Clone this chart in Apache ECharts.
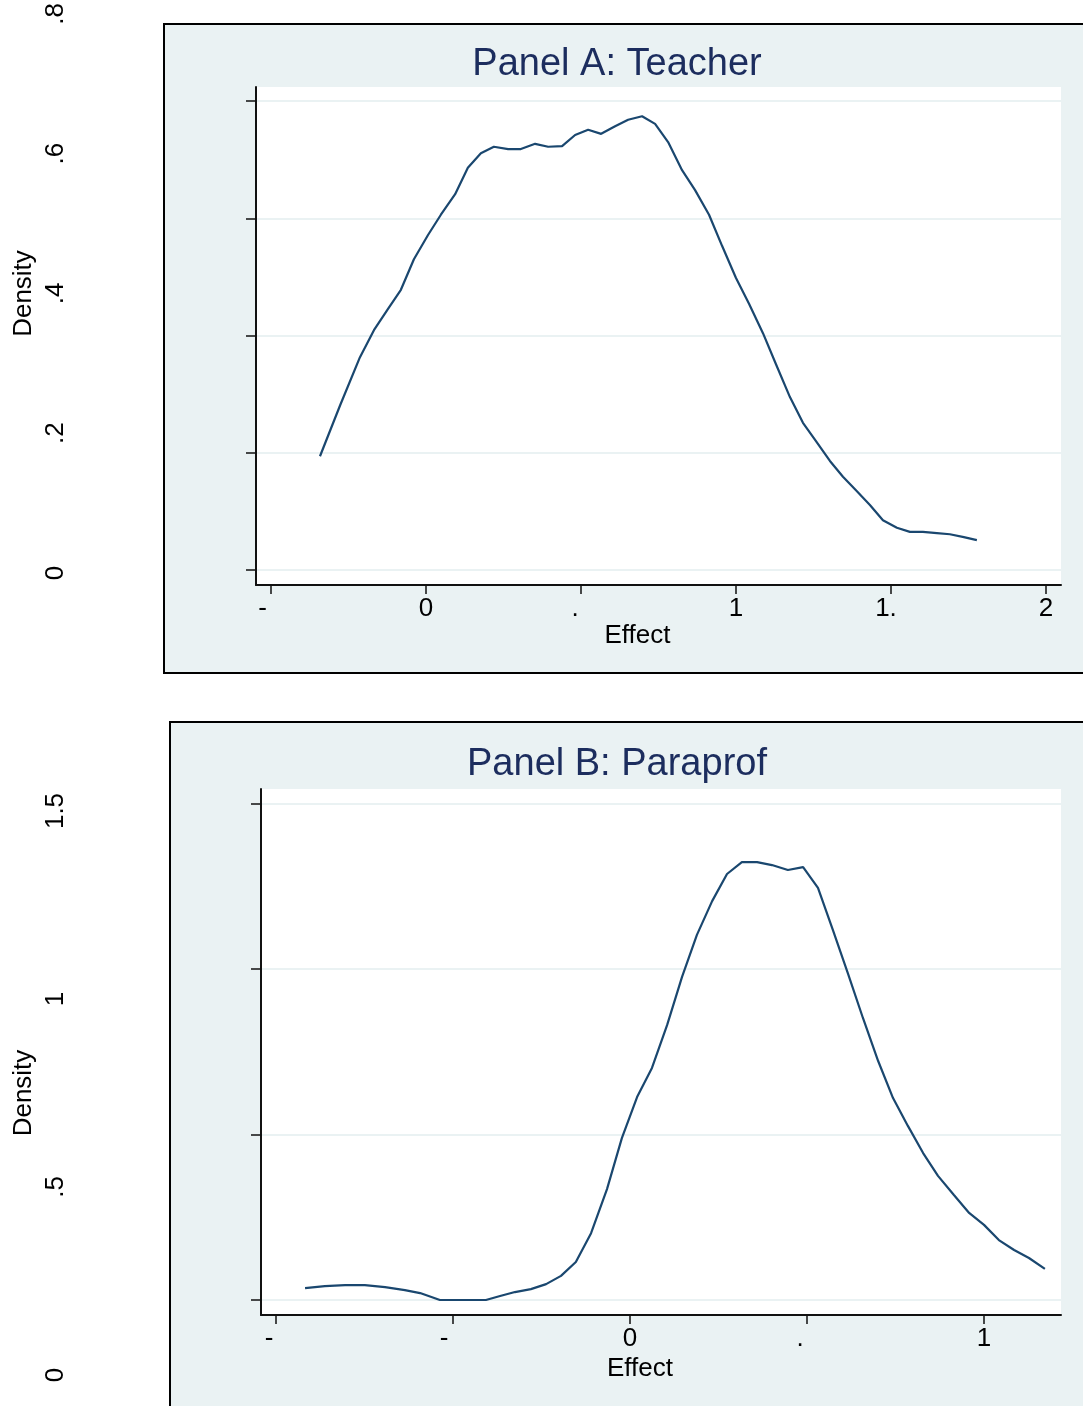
<!DOCTYPE html>
<html><head><meta charset="utf-8">
<script src="https://cdn.jsdelivr.net/npm/echarts@6/dist/echarts.min.js"></script>
<style>html,body{margin:0;padding:0;background:#fff}#c{width:1083px;height:1406px}</style>
</head><body><div id="c"></div>
<script>
const titleA = 'Panel A: Teacher';
const titleB = 'Panel B: Paraprof';
const xName = 'Effect';
const yName = 'Density';

const xTicksA = [-0.5, 0, 0.5, 1, 1.5, 2];
const xTickLabelsA = ['-', '0', '.', '1', '1.', '2'];
const yTicksA = [0, 0.2, 0.4, 0.6, 0.8];
const yTickLabelsA = ['0', '.2', '.4', '.6', '.8'];

const xTicksB = [-1, -0.5, 0, 0.5, 1];
const xTickLabelsB = ['-', '-', '0', '.', '1'];
const yTicksB = [0, 0.5, 1, 1.5];
const yTickLabelsB = ['0', '.5', '1', '1.5'];

const effectA = [-0.342,-0.277,-0.213,-0.168,-0.123,-0.081,-0.039,0.006,0.048,0.094,0.135,0.177,0.219,0.265,0.306,0.352,0.394,0.439,0.481,0.523,0.565,0.610,0.652,0.697,0.739,0.781,0.826,0.868,0.913,0.955,1.000,1.042,1.087,1.129,1.174,1.216,1.258,1.303,1.345,1.387,1.432,1.474,1.519,1.561,1.603,1.648,1.690,1.735,1.777];
const densityA = [0.194,0.281,0.363,0.409,0.445,0.478,0.530,0.571,0.606,0.641,0.686,0.711,0.722,0.718,0.718,0.727,0.722,0.723,0.742,0.751,0.744,0.757,0.768,0.774,0.761,0.730,0.682,0.648,0.606,0.553,0.498,0.454,0.404,0.351,0.295,0.251,0.220,0.186,0.159,0.136,0.111,0.085,0.072,0.065,0.065,0.063,0.061,0.056,0.051];

const effectB = [-0.918,-0.862,-0.805,-0.749,-0.692,-0.636,-0.593,-0.537,-0.480,-0.407,-0.367,-0.325,-0.280,-0.237,-0.195,-0.153,-0.110,-0.065,-0.023,0.020,0.062,0.105,0.147,0.189,0.232,0.274,0.316,0.359,0.401,0.446,0.489,0.531,0.573,0.616,0.658,0.701,0.743,0.785,0.828,0.870,0.915,0.958,1.000,1.042,1.085,1.127,1.172];
const densityB = [0.036,0.042,0.045,0.045,0.039,0.030,0.021,0.000,0.000,0.000,0.012,0.024,0.033,0.048,0.073,0.115,0.202,0.335,0.489,0.613,0.701,0.831,0.976,1.103,1.205,1.287,1.323,1.323,1.314,1.299,1.308,1.245,1.118,0.985,0.852,0.722,0.610,0.526,0.444,0.375,0.317,0.263,0.227,0.181,0.151,0.127,0.094];

const FONT = '"Liberation Sans", Arial, Helvetica, sans-serif';
const LINE = '#1a476f';
const BG = '#eaf2f3';

const chart = echarts.init(document.getElementById('c'), null, {renderer: 'canvas'});

function pairs(xs, ys) { return xs.map((x, i) => [x, ys[i]]); }

// horizontal shift (right padding) for clipped tick labels
const shiftA = {0: 17, 2: 12, 4: 10};
const shiftB = {0: 14, 1: 18, 3: 14};
function richFor(shifts) {
  const r = {c: {fontSize: 26, color: '#000', fontFamily: FONT}};
  Object.keys(shifts).forEach(k => {
    r['s' + k] = {fontSize: 26, color: '#000', fontFamily: FONT, padding: [0, shifts[k], 0, 0]};
  });
  return r;
}
function xFormatter(ticks, labels, shifts) {
  return function (v) {
    let i = ticks.findIndex(t => Math.abs(t - v) < 1e-9);
    if (i < 0) return '';
    const key = shifts[i] !== undefined ? 's' + i : 'c';
    return '{' + key + '|' + labels[i] + '}';
  };
}
function yFormatter(ticks, labels) {
  return function (v) {
    let i = ticks.findIndex(t => Math.abs(t - v) < 1e-9);
    return i < 0 ? '' : labels[i];
  };
}

function plotX(grid, min, max, ticks, labels, shifts, gap) {
  return {
    gridIndex: grid, type: 'value', min: min, max: max,
    axisLine: {show: true, onZero: false, lineStyle: {color: '#111', width: 2}},
    axisTick: {show: true, length: 9, lineStyle: {color: '#111', width: 1.5}, customValues: ticks},
    axisLabel: {show: true, customValues: ticks, margin: 11, formatter: xFormatter(ticks, labels, shifts), rich: richFor(shifts), color: '#000', fontSize: 26, fontFamily: FONT},
    splitLine: {show: false},
    name: xName, nameLocation: 'middle', nameGap: gap,
    nameTextStyle: {fontSize: 26, color: '#000', fontFamily: FONT, padding: [0, 42, 0, 0]}
  };
}
function plotY(grid, min, max, ticks) {
  return {
    gridIndex: grid, type: 'value', min: min, max: max,
    axisLine: {show: true, onZero: false, lineStyle: {color: '#111', width: 2}},
    axisTick: {show: true, length: 10, lineStyle: {color: '#111', width: 1.5}, customValues: ticks},
    axisLabel: {show: false, customValues: ticks},
    splitLine: {show: true, lineStyle: {color: BG, width: 2}}
  };
}
function labelY(grid, max, interval, ticks, labels) {
  return {
    gridIndex: grid, type: 'value', min: 0, max: max, interval: interval,
    axisLine: {show: false}, axisTick: {show: false}, splitLine: {show: false},
    axisLabel: {show: true, rotate: 90, margin: 1, formatter: yFormatter(ticks, labels), color: '#000', fontSize: 26, fontFamily: FONT},
    name: yName, nameLocation: 'middle', nameRotate: 90, nameGap: 33,
    nameTextStyle: {fontSize: 26, color: '#000', fontFamily: FONT}
  };
}
function hiddenX(grid) {
  return {gridIndex: grid, type: 'value', show: false, min: 0, max: 1};
}

const option = {
  backgroundColor: '#ffffff',
  animation: false,
  textStyle: {fontFamily: FONT},
  graphic: [
    {type: 'rect', z: -1, shape: {x: 164, y: 24, width: 1000, height: 649}, style: {fill: BG, stroke: '#000', lineWidth: 2}},
    {type: 'rect', z: -1, shape: {x: 170, y: 722, width: 1000, height: 800}, style: {fill: BG, stroke: '#000', lineWidth: 2}}
  ],
  title: [
    {text: titleA, left: 617, top: 46, textAlign: 'center', padding: 0, textStyle: {fontSize: 38, fontWeight: 'normal', color: '#1c2d5e', fontFamily: FONT}},
    {text: titleB, left: 617, top: 746, textAlign: 'center', padding: 0, textStyle: {fontSize: 38, fontWeight: 'normal', color: '#1c2d5e', fontFamily: FONT}}
  ],
  grid: [
    {left: 256, top: 87, width: 805, height: 498, show: true, backgroundColor: '#ffffff', borderWidth: 0, outerBoundsMode: 'none'},
    {left: 261, top: 789, width: 800, height: 526, show: true, backgroundColor: '#ffffff', borderWidth: 0, outerBoundsMode: 'none'},
    {left: 70, top: 14, width: 10, height: 559, outerBoundsMode: 'none'},
    {left: 70, top: 811, width: 10, height: 564, outerBoundsMode: 'none'}
  ],
  xAxis: [
    plotX(0, -0.5484, 2.0484, xTicksA, xTickLabelsA, shiftA, 28),
    plotX(1, -1.0424, 1.2175, xTicksB, xTickLabelsB, shiftB, 41),
    hiddenX(2),
    hiddenX(3)
  ],
  yAxis: [
    plotY(0, -0.0256, 0.8239, yTicksA),
    plotY(1, -0.0453, 1.5438, yTicksB),
    labelY(2, 0.8, 0.2, yTicksA, yTickLabelsA),
    labelY(3, 1.5, 0.5, yTicksB, yTickLabelsB)
  ],
  series: [
    {type: 'line', xAxisIndex: 0, yAxisIndex: 0, data: pairs(effectA, densityA), showSymbol: false, symbol: 'none', lineStyle: {color: LINE, width: 2.2}, z: 3},
    {type: 'line', xAxisIndex: 1, yAxisIndex: 1, data: pairs(effectB, densityB), showSymbol: false, symbol: 'none', lineStyle: {color: LINE, width: 2.2}, z: 3}
  ]
};
chart.setOption(option);
</script>
</body></html>
